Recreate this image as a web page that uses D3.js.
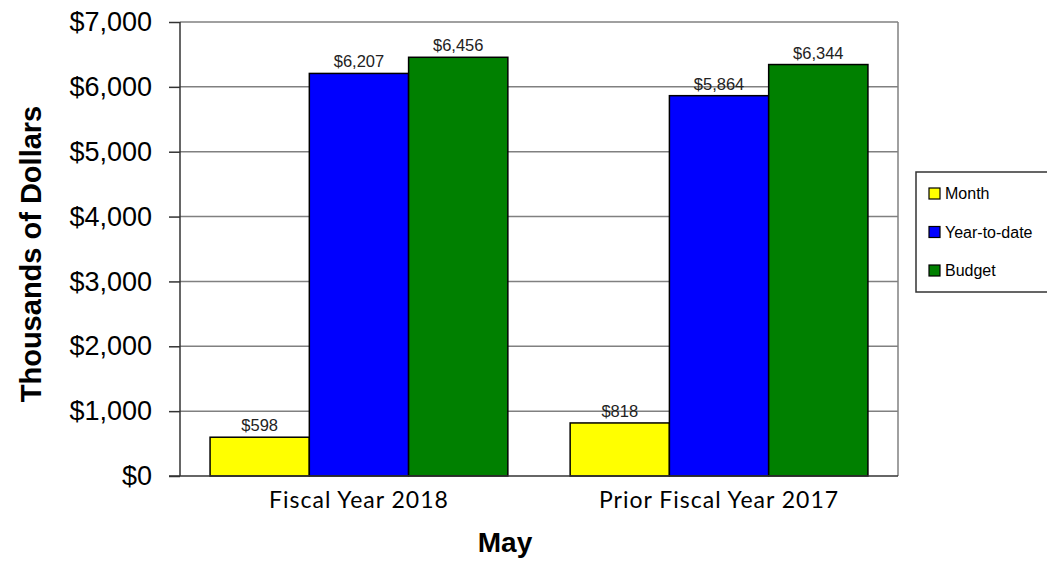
<!DOCTYPE html>
<html>
<head>
<meta charset="utf-8">
<script src="https://cdn.jsdelivr.net/npm/d3@7"></script>
<style>
  html, body { margin: 0; padding: 0; background: #fff; }
  svg { display: block; }
</style>
</head>
<body>
<svg id="chart" width="1047" height="563"></svg>
<script>
// Revenue summary data (thousands of dollars)
const categories = ["Fiscal Year 2018", "Prior Fiscal Year 2017"];
const seriesNames = ["Month", "Year-to-date", "Budget"];
const monthValues = [598, 818];
const ytdValues = [6207, 5864];
const budgetValues = [6456, 6344];
const yTicks = [0, 1000, 2000, 3000, 4000, 5000, 6000, 7000];
const colors = ["#ffff00", "#0000ff", "#008000"];

const seriesValues = [monthValues, ytdValues, budgetValues];
const rows = categories.map((c, i) => ({
  category: c,
  values: seriesNames.map((s, j) => ({ series: s, value: seriesValues[j][i], color: colors[j] }))
}));

const svg = d3.select("#chart");
const margin = { left: 180, right: 149, top: 22, bottom: 87 };
const W = 1047, H = 563;
const plotW = W - margin.left - margin.right;
const plotH = H - margin.top - margin.bottom;
const arial = "Liberation Sans, Arial, sans-serif";

const g = svg.append("g").attr("transform", `translate(${margin.left},${margin.top})`);

const x0 = d3.scaleBand().domain(categories).range([0, plotW]).paddingInner(0.173).paddingOuter(0.0835);
const x1 = d3.scaleBand().domain(seriesNames).range([0, x0.bandwidth()]).padding(0);
const y = d3.scaleLinear().domain([0, 7000]).range([plotH, 0]);

// gridlines
g.append("g").selectAll("line").data(yTicks.filter(t => t > 0)).join("line")
  .attr("x1", 0).attr("x2", plotW)
  .attr("y1", d => y(d)).attr("y2", d => y(d))
  .attr("stroke", "#808080").attr("stroke-width", 1.5);

// right border of plot area
g.append("line").attr("x1", plotW).attr("x2", plotW).attr("y1", 0).attr("y2", plotH)
  .attr("stroke", "#808080").attr("stroke-width", 1.5);

// bars
const groups = g.append("g").selectAll("g").data(rows).join("g")
  .attr("transform", d => `translate(${x0(d.category)},0)`);
groups.selectAll("rect").data(d => d.values).join("rect")
  .attr("x", d => x1(d.series))
  .attr("y", d => y(d.value))
  .attr("width", x1.bandwidth())
  .attr("height", d => plotH - y(d.value))
  .attr("fill", d => d.color)
  .attr("stroke", "#000").attr("stroke-width", 1.5);

// value labels
const fmt = d3.format("$,");
groups.selectAll("text").data(d => d.values).join("text")
  .attr("x", d => x1(d.series) + x1.bandwidth() / 2)
  .attr("y", d => y(d.value) - 6)
  .attr("text-anchor", "middle")
  .attr("font-family", arial)
  .attr("font-size", 16.5).attr("fill", "#222")
  .text(d => fmt(d.value));

// y axis
const yAxis = d3.axisLeft(y).tickValues(yTicks).tickFormat(fmt).tickSize(11).tickPadding(17);
const ya = g.append("g").call(yAxis);
ya.select(".domain").attr("d", `M0,0V${plotH}`).attr("stroke", "#333").attr("stroke-width", 1.5);
ya.selectAll(".tick line").attr("stroke", "#333").attr("stroke-width", 1.5);
ya.selectAll(".tick text").attr("font-family", arial)
  .attr("font-size", 27).attr("fill", "#000");

// x axis baseline and category labels
const xAxis = d3.axisBottom(x0).tickSize(0).tickPadding(0);
const xa = g.append("g").attr("transform", `translate(0,${plotH})`).call(xAxis);
xa.select(".domain").attr("d", `M-11,0H${plotW}`).attr("stroke", "#333").attr("stroke-width", 1.5);
xa.selectAll(".tick text")
  .attr("dy", null).attr("y", 32)
  .attr("font-family", "Lato, 'Open Sans', sans-serif")
  .attr("font-size", 23).attr("letter-spacing", 1).attr("fill", "#000");

// axis titles
svg.append("text")
  .attr("transform", `translate(41,254) rotate(-90)`)
  .attr("text-anchor", "middle")
  .attr("font-family", arial)
  .attr("font-weight", "bold").attr("font-size", 29)
  .text("Thousands of Dollars");

svg.append("text")
  .attr("x", 505).attr("y", 552)
  .attr("text-anchor", "middle")
  .attr("font-family", arial)
  .attr("font-weight", "bold").attr("font-size", 28)
  .text("May");

// legend
const lg = svg.append("g").attr("transform", "translate(916,172)");
lg.append("rect").attr("x", 0).attr("y", 0).attr("width", 150).attr("height", 120)
  .attr("fill", "#fff").attr("stroke", "#333").attr("stroke-width", 1.5);
const items = lg.selectAll("g.item").data(seriesNames).join("g").attr("class", "item")
  .attr("transform", (d, i) => `translate(13,${21 + i * 38.5})`);
items.append("rect").attr("x", 0).attr("y", -5).attr("width", 11).attr("height", 11)
  .attr("fill", (d, i) => colors[i]).attr("stroke", "#000").attr("stroke-width", 1.2);
items.append("text").attr("x", 16).attr("y", 6)
  .attr("font-family", arial).attr("font-size", 16).attr("fill", "#000")
  .text(d => d);
</script>
</body>
</html>
